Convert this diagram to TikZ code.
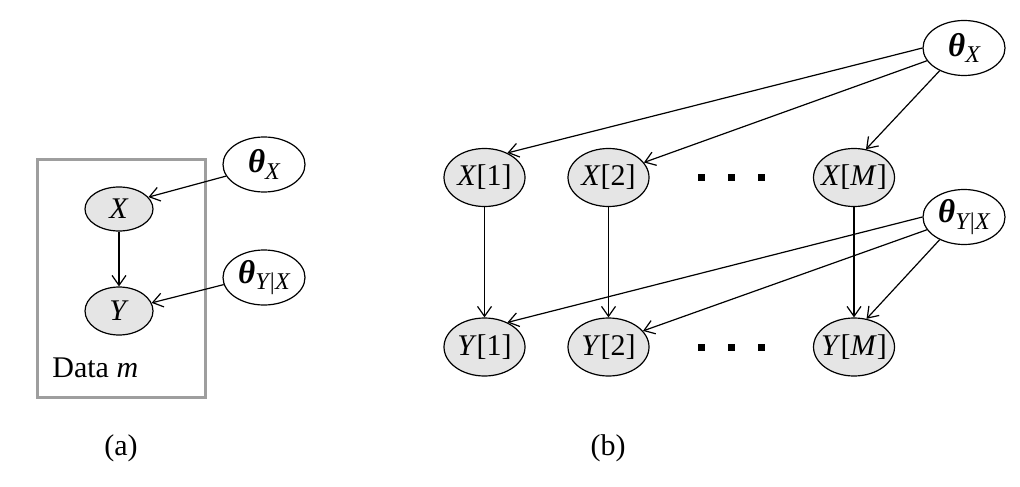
\documentclass[tikz,border=0pt]{standalone}
\usepackage{fontspec}
\setmainfont{Liberation Serif}
\usetikzlibrary{shapes.geometric,arrows.meta}

\newcommand{\thetanode}[1]{{\fontsize{16.5}{18}\selectfont\bfseries\itshape θ}\raisebox{-0.45ex}{\fontsize{12}{13}\selectfont\itshape #1}}

\begin{document}
\begin{tikzpicture}[x=0.5pt,y=-0.5pt,font=\fontsize{15}{17}\selectfont]
                        \tikzset{Obs/.style={%
                                shape=ellipse,%
                                draw=black,%
                                fill=black!10,%
                                line width=0.6pt,%
                                inner sep=0pt,%
                            },
                            Param/.style={%
                                shape=ellipse,%
                                draw=black,%
                                fill=white,%
                                line width=0.6pt,%
                                minimum width=41pt,%
                                minimum height=27.5pt,%
                                inner sep=0pt,%
                            },
                            Dot/.style={%
                                shape=rectangle,%
                                fill=black,%
                                minimum size=3.5pt,%
                                inner sep=0pt,%
                            },
                            Link/.style={-{Straight Barb[length=5pt,width=7pt]},line width=0.6pt}}
                            \useasboundingbox (0,0) rectangle (1020,486);

                            % (a)
                            \draw[black!38, line width=1.5pt] (37.5,159.5) rectangle (205.5,397);
                            \node[Obs, minimum width=34pt, minimum height=22pt] (X) at (119,209) {\textit{X}};
                            \node[Obs, minimum width=34pt, minimum height=24pt, node distance=51pt, below of=X] (Y) {\textit{Y}};
                            \node[Param] (thX) at (264,164.5) {\thetanode{X}};
                            \node[Param, node distance=56.5pt, below of=thX] (thYX) {\thetanode{Y|X}};
                            \node[anchor=base west, inner sep=0pt] (data) at (52,377) {Data \textit{m}};
                            \node (la) at (121,448) {(a)};

                            \path (thX.197) edge[Link] (X.22);
                            \path (X) edge[Link] (Y);
                            \path (thYX.190) edge[Link] (Y.14);

                            % (b)
                            \node[Obs, minimum width=40.5pt, minimum height=29pt] (X1) at (484.5,177.5) {\textit{X}[1]};
                            \node[Obs, minimum width=40.5pt, minimum height=29pt, node distance=62pt, right of=X1] (X2) {\textit{X}[2]};
                            \node[Obs, minimum width=40.5pt, minimum height=29pt, inner xsep=-3pt, node distance=122.75pt, right of=X2] (XM) {\textit{X}[\textit{M}]};
                            \node[Obs, minimum width=40.5pt, minimum height=29pt, node distance=84.75pt, below of=X1] (Y1) {\textit{Y}[1]};
                            \node[Obs, minimum width=40.5pt, minimum height=29pt, node distance=84.75pt, below of=X2] (Y2) {\textit{Y}[2]};
                            \node[Obs, minimum width=40.5pt, minimum height=29pt, inner xsep=-3pt, node distance=84.75pt, below of=XM] (YM) {\textit{Y}[\textit{M}]};
                            \node[Param] (thX2) at (964,48) {\thetanode{X}};
                            \node[Param, node distance=84.5pt, below of=thX2] (thYX2) {\thetanode{Y|X}};

                            \node[Dot] (xd1) at (701.6,177.5) {};
                            \node[Dot] (xd2) at (731.4,177.5) {};
                            \node[Dot] (xd3) at (761,177.5) {};
                            \node[Dot] (yd1) at (701.6,347) {};
                            \node[Dot] (yd2) at (731.4,347) {};
                            \node[Dot] (yd3) at (761,347) {};
                            \node (lb) at (608,448) {(b)};

                            \path (thX2.180) edge[Link] (X1.47);
                            \path (thX2.199) edge[Link] (X2.23);
                            \path (thX2.223) edge[Link] (XM.67);
                            \path (X1) edge[Link] (Y1);
                            \path (X2) edge[Link] (Y2);
                            \path (XM) edge[Link] (YM);
                            \path (thYX2.180) edge[Link] (Y1.47);
                            \path (thYX2.199) edge[Link] (Y2.25);
                            \path (thYX2.223) edge[Link] (YM.66);
\end{tikzpicture}
\end{document}
